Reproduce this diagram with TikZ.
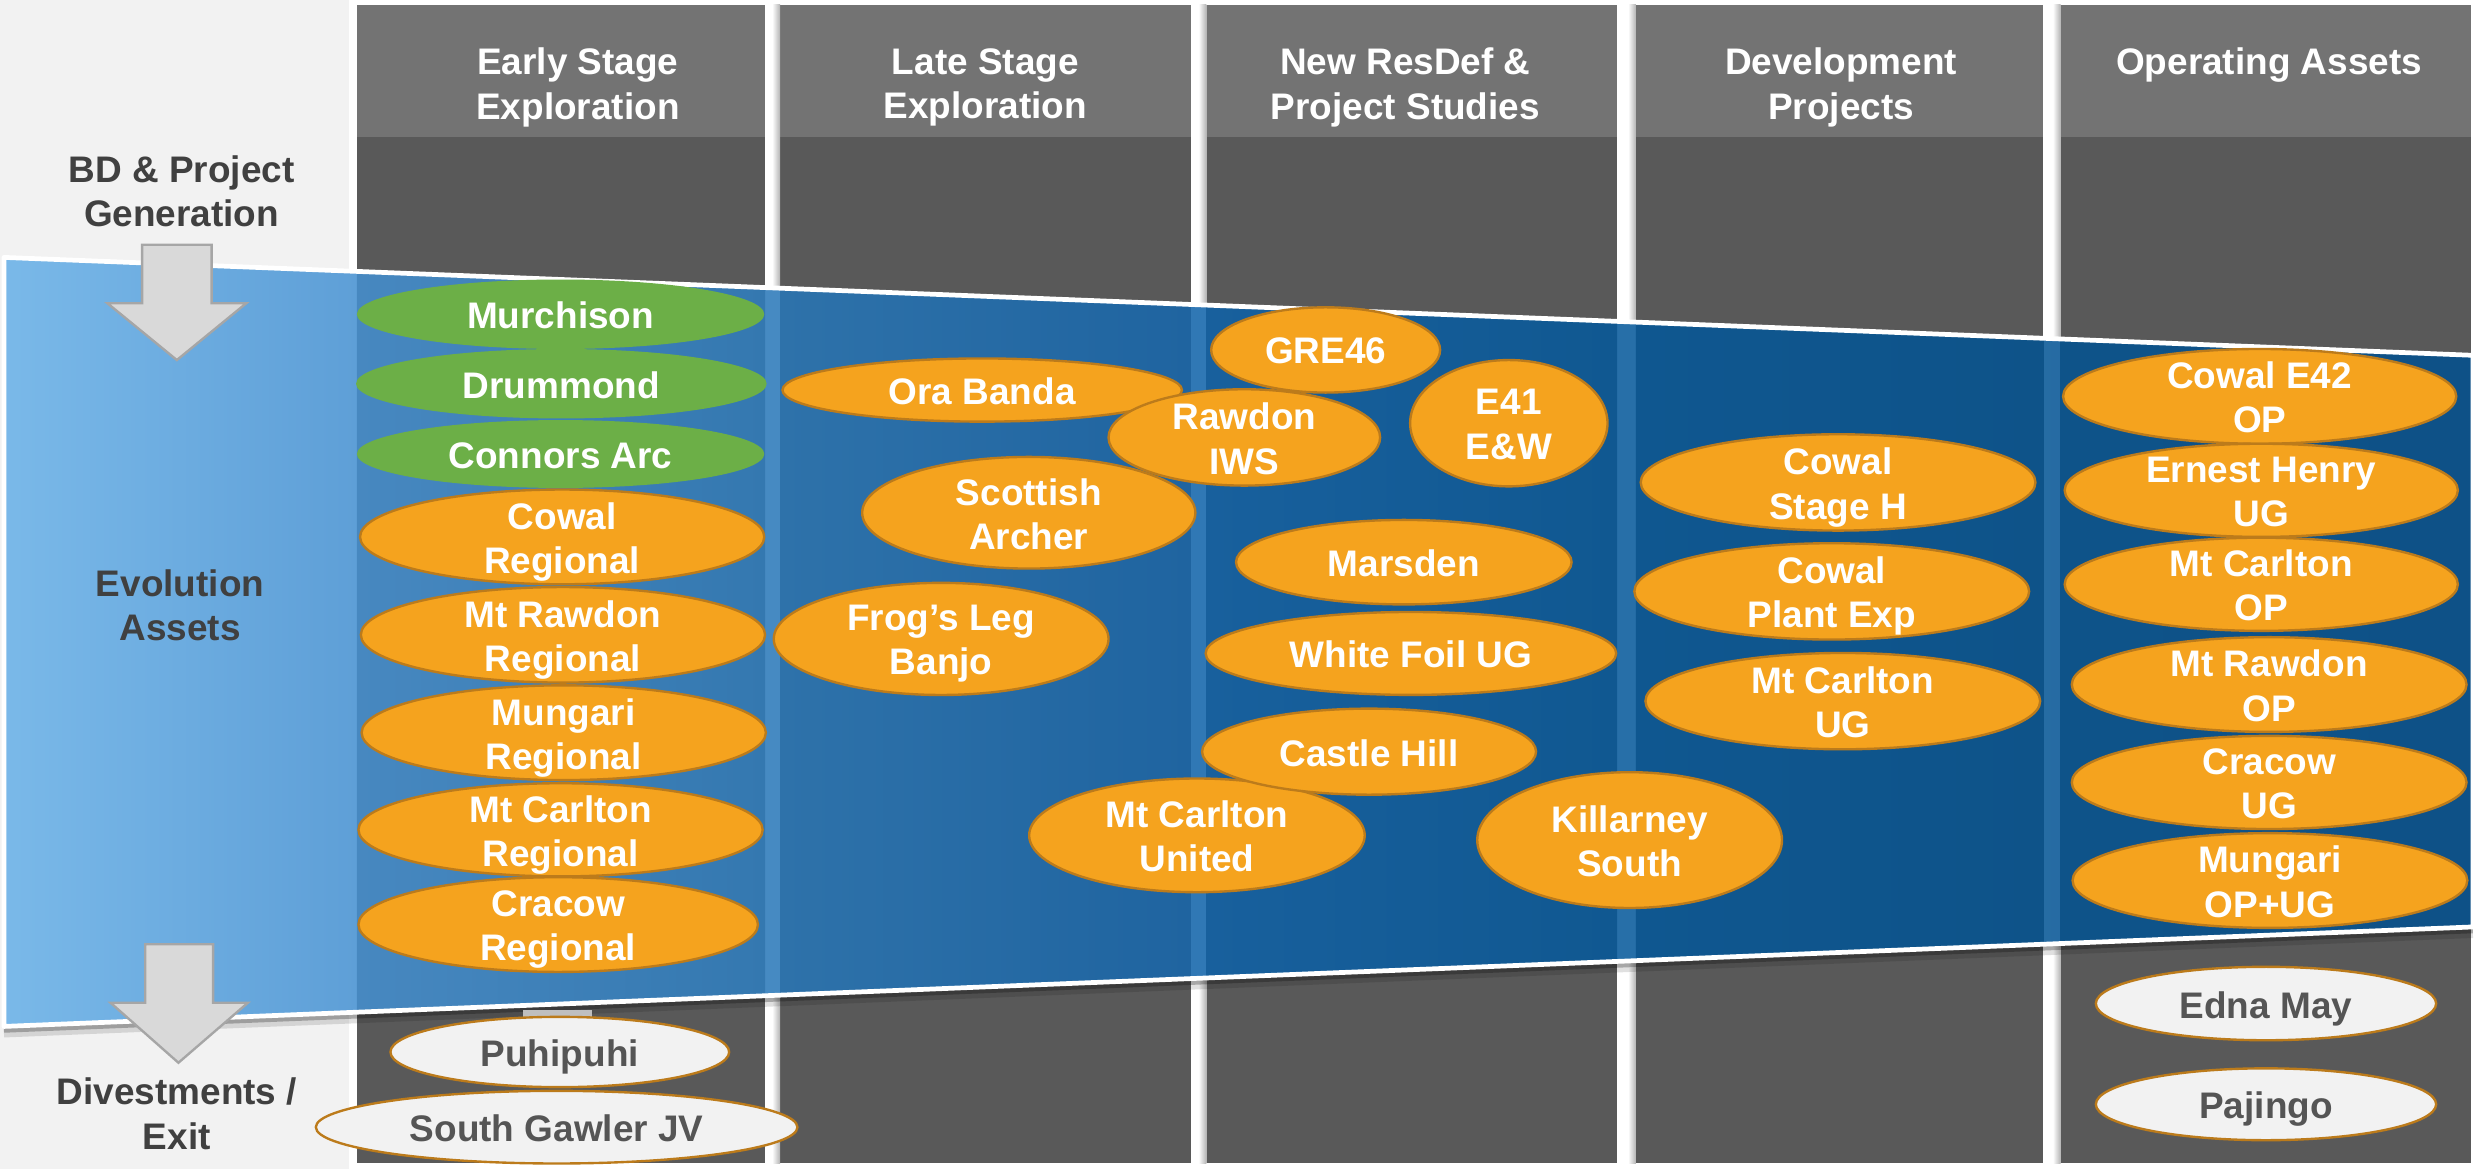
\documentclass[tikz,border=0pt]{standalone}
\usepackage{fontspec}
\setmainfont{Liberation Sans}
\usetikzlibrary{shapes.geometric}

\definecolor{bgpale}{HTML}{F2F2F2}
\definecolor{headgray}{HTML}{737373}
\definecolor{bodygray}{HTML}{595959}
\definecolor{labelgray}{HTML}{404040}
\definecolor{exittext}{HTML}{555555}
\definecolor{ovalorange}{HTML}{F5A31E}
\definecolor{ovaledge}{HTML}{BC7B1B}
\definecolor{ovalgreen}{HTML}{6CAF47}
\definecolor{arrowfill}{HTML}{D9D9D9}
\definecolor{arrowedge}{HTML}{A6A6A6}
% band colours over the pale background
\definecolor{bl0}{HTML}{7AB9E9}
\definecolor{bl1}{HTML}{5E9FD7}
\definecolor{bl2}{HTML}{468AC2}
\definecolor{bl3}{HTML}{3078B5}
\definecolor{bl4}{HTML}{276FA8}
\definecolor{bl5}{HTML}{25689E}
% band colours over the grey columns
\definecolor{bc1a}{HTML}{4788C0}
\definecolor{bc1b}{HTML}{3478B0}
\definecolor{bc2a}{HTML}{2E72AA}
\definecolor{bc2b}{HTML}{1F64A0}
\definecolor{bc3a}{HTML}{18609D}
\definecolor{bc3b}{HTML}{105891}
\definecolor{bc4a}{HTML}{0F5790}
\definecolor{bc4b}{HTML}{0E5389}
\definecolor{bc5a}{HTML}{0E5389}
\definecolor{bc5b}{HTML}{0E5187}

\newcommand{\lnstrut}{\rule[-7pt]{0pt}{21pt}}
\newcommand{\duo}[2]{\lnstrut#1\\\lnstrut#2}
\newcommand{\uno}[1]{\lnstrut#1}
% ellipse with its caption: style, name, x, y, width, height, text
\newcommand{\ovalnode}[7]{%
  \node[#1, minimum width=#5pt, minimum height=#6pt] (#2) at (#3,#4) {};
  \node[#1 txt] (#2-txt) at (#2.center) {#7};}

\tikzset{
  basefont/.style={font=\bfseries\fontsize{23.4pt}{28pt}\selectfont, align=center, inner sep=0pt},
  oval/.style={ellipse, inner sep=0pt, outer sep=0pt},
  ovo/.style={oval, fill=ovalorange, draw=ovaledge, line width=1.5pt},
  ovg/.style={oval, fill=ovalgreen},
  ovp/.style={oval, fill=bgpale, draw=ovaledge, line width=1.5pt},
  ovo txt/.style={basefont, text=white, yshift=-4.2pt},
  ovg txt/.style={basefont, text=white, yshift=-4.2pt},
  ovp txt/.style={basefont, text=exittext, yshift=-4.2pt},
  headtxt/.style={basefont, text=white},
  sidetxt/.style={basefont, text=labelgray},
  blockarrow/.style={fill=arrowfill, draw=arrowedge, line width=1.5pt, line join=miter},
}

\begin{document}
\begin{tikzpicture}[x=1pt, y=-1pt]
\useasboundingbox (0,0) rectangle (1568,740);

% background
\fill[bgpale] (0,0) rectangle (1568,740);
\fill[white] (221,0) rectangle (1568,740);

% stage columns
\foreach \xa/\xb in {226/484.5, 494/754, 764/1024, 1036/1294, 1305/1565} {
  \fill[headgray] (\xa,3) rectangle (\xb,86.5);
  \fill[bodygray] (\xa,86.5) rectangle (\xb,736.6);
}
\foreach \xa in {494, 764, 1036, 1305} {
  \shade[left color=white, right color=black!30] (\xa-5,3) rectangle (\xa,736.6);
}

% shadow under the band
\draw[black, opacity=0.12, line width=6pt] (2.5,654) -- (1566,591);
\draw[black, opacity=0.25, line width=3pt] (2.5,652.5) -- (1566,589.5);

% evolution band
\begin{scope}
  \clip (2.5,163) -- (1566,225) -- (1566,587) -- (2.5,650) -- cycle;
  \shade[left color=bl0, right color=bl1] (0,150) rectangle (226.5,660);
  \shade[left color=bl1, right color=bl2] (226,150) rectangle (490.5,660);
  \shade[left color=bl2, right color=bl3] (490,150) rectangle (760.5,660);
  \shade[left color=bl3, right color=bl4] (760,150) rectangle (1030.5,660);
  \shade[left color=bl4, right color=bl5] (1030,150) rectangle (1568,660);
  \shade[left color=bc1a, right color=bc1b] (226,150) rectangle (484.5,660);
  \shade[left color=bc2a, right color=bc2b] (494,150) rectangle (754,660);
  \shade[left color=bc3a, right color=bc3b] (764,150) rectangle (1024,660);
  \shade[left color=bc4a, right color=bc4b] (1036,150) rectangle (1294,660);
  \shade[left color=bc5a, right color=bc5b] (1305,150) rectangle (1565,660);
\end{scope}
\draw[white, line width=3pt, line join=round]
  (2.5,163) -- (1566,225) -- (1566,587) -- (2.5,650) -- cycle;

% small bar above Puhipuhi
\fill[black!25] (331,639.5) rectangle (375,645);

% flow arrows
\draw[blockarrow] (90,155) -- (134,155) -- (134,192) -- (156,192) -- (112,228)
  -- (68,192) -- (90,192) -- cycle;
\draw[blockarrow] (92,598) -- (135,598) -- (135,635) -- (157,635) -- (113,673)
  -- (70,635) -- (92,635) -- cycle;

% side labels
\node[sidetxt] (lab-bd) at (115,124.6) {\duo{BD \& Project}{Generation}};
\node[sidetxt] (lab-evo) at (114,386.7) {\duo{Evolution}{Assets}};
\node[sidetxt] (lab-div) at (112,708.7) {\duo{Divestments /}{Exit}};

% column headings
\node[headtxt] (hd-early) at (366,56.4) {\duo{Early Stage}{Exploration}};
\node[headtxt] (hd-late) at (624,56.4) {\duo{Late Stage}{Exploration}};
\node[headtxt] (hd-resdef) at (890,56.4) {\duo{New ResDef \&}{Project Studies}};
\node[headtxt] (hd-dev) at (1166,56.4) {\duo{Development}{Projects}};
\node[headtxt] (hd-op) at (1437,42.4) {\uno{Operating Assets}};

% early stage exploration
\ovalnode{ovg}{murchison}{355}{199}{258}{44}{\uno{Murchison}}
\ovalnode{ovg}{drummond}{355.5}{243}{260}{44}{\uno{Drummond}}
\ovalnode{ovg}{connors}{355}{287.5}{258}{43}{\uno{Connors Arc}}
\ovalnode{ovo}{cowalreg}{356}{340}{256}{60}{\duo{Cowal}{Regional}}
\ovalnode{ovo}{rawdonreg}{356.5}{402}{256}{60.5}{\duo{Mt Rawdon}{Regional}}
\ovalnode{ovo}{mungarireg}{357}{464}{256}{60}{\duo{Mungari}{Regional}}
\ovalnode{ovo}{carltonreg}{355}{525.5}{256}{59}{\duo{Mt Carlton}{Regional}}
\ovalnode{ovo}{cracowreg}{353.5}{585.5}{253}{60}{\duo{Cracow}{Regional}}

% late stage exploration and resource studies
\ovalnode{ovo}{orabanda}{622}{247}{253}{40}{\uno{Ora Banda}}
\ovalnode{ovo}{scottish}{651.5}{324.7}{211}{70.7}{\duo{Scottish}{Archer}}
\ovalnode{ovo}{gre}{839.5}{221.6}{145}{54}{\uno{GRE46}}
\ovalnode{ovo}{rawdoniws}{788}{277}{172}{61}{\duo{Rawdon}{IWS}}
\ovalnode{ovo}{efortyone}{955.5}{268}{125}{80}{\duo{E41}{E\&W}}
\ovalnode{ovo}{frogsleg}{596}{404.6}{212}{71}{\duo{Frog’s Leg}{Banjo}}
\ovalnode{ovo}{marsden}{889}{356}{212.5}{53.5}{\uno{Marsden}}
\ovalnode{ovo}{whitefoil}{893.5}{413.8}{260}{52.5}{\uno{White Foil UG}}
\ovalnode{ovo}{carltonutd}{758}{529}{212.5}{72}{\duo{Mt Carlton}{United}}
\ovalnode{ovo}{castlehill}{867}{476}{211.5}{54.5}{\uno{Castle Hill}}
\ovalnode{ovo}{killarney}{1032}{532}{193}{86}{\duo{Killarney}{South}}

% development projects
\ovalnode{ovo}{cowalh}{1164}{305.5}{250}{61}{\duo{Cowal}{Stage H}}
\ovalnode{ovo}{cowalplant}{1160}{374.5}{250}{61}{\duo{Cowal}{Plant Exp}}
\ovalnode{ovo}{carltonug}{1167}{444}{250}{61}{\duo{Mt Carlton}{UG}}

% operating assets
\ovalnode{ovo}{cowalop}{1431}{251}{249}{60}{\duo{Cowal E42}{OP}}
\ovalnode{ovo}{ernest}{1432}{310.5}{249}{59}{\duo{Ernest Henry}{UG}}
\ovalnode{ovo}{carltonop}{1432}{370}{249}{59}{\duo{Mt Carlton}{OP}}
\ovalnode{ovo}{rawdonop}{1437}{433.5}{250}{60}{\duo{Mt Rawdon}{OP}}
\ovalnode{ovo}{cracowug}{1437}{495.5}{250}{59}{\duo{Cracow}{UG}}
\ovalnode{ovo}{mungariop}{1437.5}{557.6}{250}{60}{\duo{Mungari}{OP+UG}}

% divestments
\ovalnode{ovp}{puhipuhi}{354.5}{666.2}{214.5}{44.5}{\uno{Puhipuhi}}
\ovalnode{ovp}{gawler}{352.5}{713.8}{305}{46}{\uno{South Gawler JV}}
\ovalnode{ovp}{ednamay}{1435}{635.5}{215.5}{46.5}{\uno{Edna May}}
\ovalnode{ovp}{pajingo}{1435}{699.3}{215.5}{45.5}{\uno{Pajingo}}
\end{tikzpicture}
\end{document}
